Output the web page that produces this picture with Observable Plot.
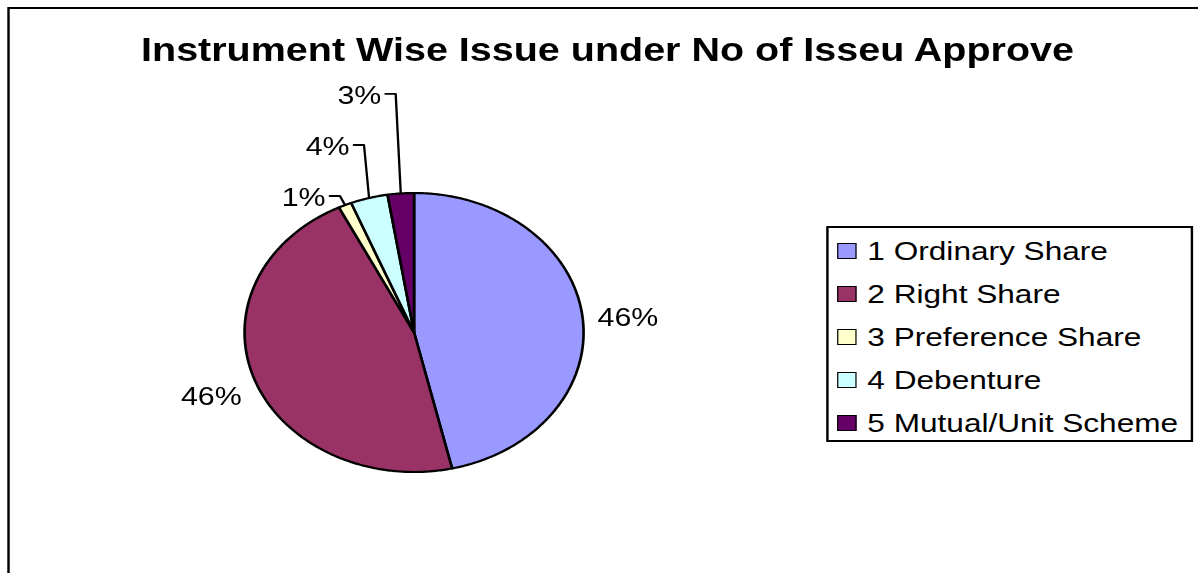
<!DOCTYPE html>
<html>
<head>
<meta charset="utf-8">
<script src="https://cdn.jsdelivr.net/npm/d3@7"></script>
<script src="https://cdn.jsdelivr.net/npm/@observablehq/plot@0.6"></script>
<style>
html, body { margin: 0; padding: 0; background: #fff; overflow: hidden; width: 1198px; height: 573px; }
#stage { position: absolute; left: 0; top: 0; width: 986px; height: 573px;
  transform: scaleX(1.215); transform-origin: 0 0;
  font-family: "Liberation Sans", Arial, sans-serif; color: #000; }
#frame { position: absolute; left: 5.8px; top: 7px; width: 1200px; height: 1000px;
  border: 2px solid #000; box-sizing: border-box; }
#title { position: absolute; left: 0; width: 1000px; top: 33.5px; text-align: center;
  font-weight: bold; font-size: 32.5px; line-height: 32px; white-space: nowrap; }
#chart { position: absolute; left: 0; top: 0; }
#legend { position: absolute; left: 679.8px; top: 226px; width: 302px; height: 216px;
  border: 2px solid #000; box-sizing: border-box; padding-top: 1.5px; background: #fff; }
.row { display: flex; align-items: center; height: 43px; font-size: 26px; white-space: nowrap; }
.sw { width: 15.6px; height: 16px; box-sizing: border-box; border: 1.8px solid #000;
  margin-left: 7.7px; margin-right: 8.8px; flex: none; }
</style>
</head>
<body>
<div id="stage">
  <div id="frame"></div>
  <div id="chart"></div>
  <div id="title"></div>
  <div id="legend"></div>
</div>
<script>
// ---- data ----
const chartTitle = "Instrument Wise Issue under No of Isseu Approve";
const categories = ["1 Ordinary Share", "2 Right Share", "3 Preference Share", "4 Debenture", "5 Mutual/Unit Scheme"];
const values = [46.4, 46.3, 1.25, 3.55, 2.5];
const colors = ["#9999FF", "#993366", "#FFFFCC", "#CCFFFF", "#660066"];

// ---- layout ----
const W = 986, H = 573;
const total = d3.sum(values);
const labels = values.map(v => Math.round(v / total * 100) + "%");
const arcs = d3.pie().sort(null).value(d => d)(values);

const slicePts = arcs.map((a, i) => {
  const pts = [{x: 0, y: 0}];
  const n = Math.max(2, Math.ceil((a.endAngle - a.startAngle) / 0.01));
  for (let j = 0; j <= n; j++) {
    const t = a.startAngle + (a.endAngle - a.startAngle) * j / n;
    pts.push({x: Math.sin(t), y: Math.cos(t)});
  }
  pts.push({x: 0, y: 0});
  return pts;
});

const mids = arcs.map(a => (a.startAngle + a.endAngle) / 2);
const big = [], small = [];
values.forEach((v, i) => (v / total >= 0.1 ? big : small).push(i));

const bigLabels = big.map(i => ({x: 1.27 * Math.sin(mids[i]), y: 1.27 * Math.cos(mids[i]), t: labels[i]}));

const leaderPts = [], smallLabels = [];
const baseY = small.length ? Math.cos(mids[small[0]]) + 0.065 : 0;
small.forEach((i, k) => {
  const ax = Math.sin(mids[i]), ay = Math.cos(mids[i]);
  const ex = ax - 0.03, ey = baseY + k * 0.366;
  leaderPts.push({k, x: ax, y: ay}, {k, x: ex, y: ey}, {k, x: ex - 0.06, y: ey});
  smallLabels.push({x: ex - 0.085, y: ey - 0.012, t: labels[i]});
});

const plot = Plot.plot({
  width: W, height: H, margin: 0,
  style: {background: "transparent", overflow: "visible", fontFamily: "'Liberation Sans', Arial, sans-serif"},
  x: {domain: [-1, 1], range: [200.8, 479.8], axis: null},
  y: {domain: [-1, 1], range: [471.5, 192.5], axis: null},
  marks: [
    ...slicePts.map((pts, i) => Plot.line(pts, {x: "x", y: "y", fill: colors[i], stroke: "#000", strokeWidth: 2.2, strokeLinejoin: "round"})),
    Plot.line(leaderPts, {x: "x", y: "y", z: "k", stroke: "#000", strokeWidth: 1.9}),
    Plot.text(bigLabels, {x: "x", y: "y", text: "t", fontSize: 25, fill: "#000", textAnchor: "middle", lineAnchor: "middle", dy: 5}),
    Plot.text(smallLabels, {x: "x", y: "y", text: "t", fontSize: 25, fill: "#000", textAnchor: "end", lineAnchor: "middle"})
  ]
});
document.getElementById("chart").appendChild(plot);
document.getElementById("title").textContent = chartTitle;

const legend = document.getElementById("legend");
categories.forEach((c, i) => {
  const row = document.createElement("div");
  row.className = "row";
  const sw = document.createElement("div");
  sw.className = "sw";
  sw.style.background = colors[i];
  const tx = document.createElement("span");
  tx.textContent = c;
  row.appendChild(sw);
  row.appendChild(tx);
  legend.appendChild(row);
});
</script>
</body>
</html>
